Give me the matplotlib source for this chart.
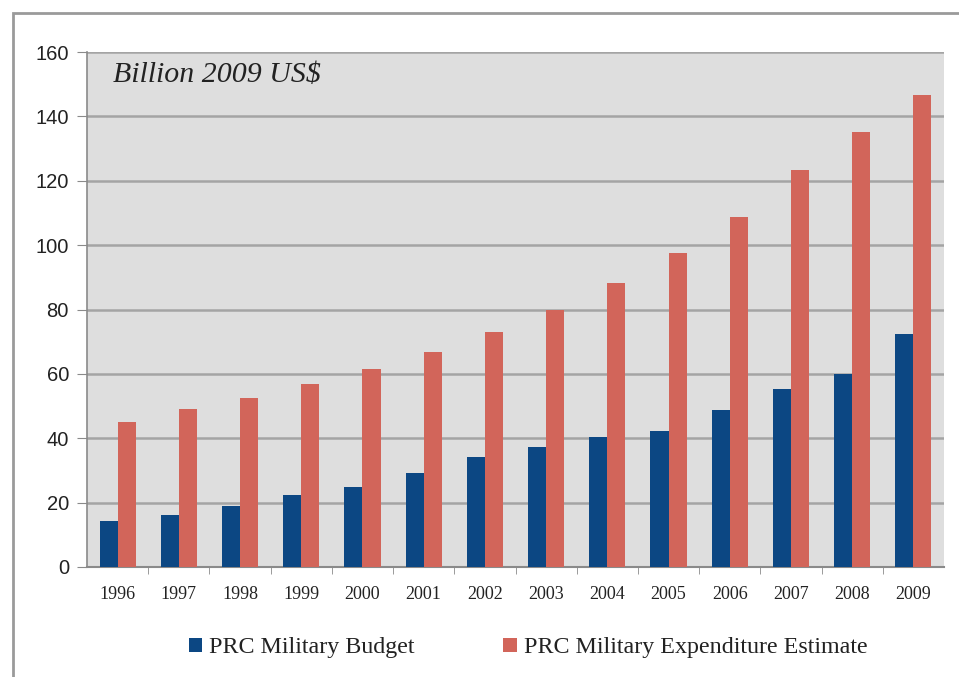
import numpy as np
import matplotlib.pyplot as plt
from matplotlib.patches import Rectangle

years = ['1996', '1997', '1998', '1999', '2000', '2001', '2002',
         '2003', '2004', '2005', '2006', '2007', '2008', '2009']
budget = [14.4, 16.1, 18.9, 22.3, 24.9, 29.1, 34.1,
          37.2, 40.4, 42.4, 48.7, 55.3, 60.1, 72.5]
estimate = [44.9, 49.0, 52.5, 56.7, 61.6, 66.7, 73.0,
            80.0, 88.3, 97.4, 108.7, 123.2, 135.0, 146.7]

blue = '#0C4783'
red = '#D2655A'
W, H = 959, 677

fig = plt.figure(figsize=(W / 100, H / 100), dpi=100)
fig.patch.set_facecolor('white')

# outer frame of the original picture (runs off right/bottom edge)
fig.add_artist(Rectangle((13 / W, -0.1), 1.2, 1.1 - 13 / H, transform=fig.transFigure,
                         fill=False, edgecolor='#9a9a9a', linewidth=2))

ax = fig.add_axes([87 / W, 1 - 567 / H, (944 - 87) / W, (567 - 52) / H])
ax.set_facecolor('#dedede')

x = np.arange(len(years))
bw = 0.295
ax.bar(x - bw / 2, budget, bw, color=blue, label='PRC Military Budget', zorder=3)
ax.bar(x + bw / 2, estimate, bw, color=red, label='PRC Military Expenditure Estimate', zorder=3)

ax.set_xlim(-0.5, len(years) - 0.5)
ax.set_ylim(0, 160)
ax.set_yticks(np.arange(0, 161, 20))
ax.yaxis.grid(True, color='#a4a4a4', linewidth=1.8, zorder=1)
ax.set_axisbelow(True)

ax.set_xticks(x)
ax.set_xticklabels(years, family='Liberation Serif', fontsize=13, color='#222222')
ax.set_xticks(np.arange(0.5, len(years) - 1, 1), minor=True)
ax.tick_params(axis='x', which='major', length=0, pad=14)
ax.tick_params(axis='x', which='minor', length=5, color='#8a8a8a', direction='out')
ax.tick_params(axis='y', length=7, color='#8a8a8a', labelsize=14.5, pad=6, labelcolor='#222222')
for lab in ax.get_yticklabels():
    lab.set_family('Liberation Sans')

for s in ['top', 'right']:
    ax.spines[s].set_visible(False)
ax.spines['left'].set_color('#8a8a8a')
ax.spines['bottom'].set_color('#8a8a8a')
ax.spines['left'].set_linewidth(1.2)
ax.spines['bottom'].set_linewidth(1.5)

ax.text(0.03, 0.955, 'Billion 2009 US$', transform=ax.transAxes, ha='left', va='center',
        family='Liberation Serif', style='italic', fontsize=21.5, color='#222222')

leg = fig.legend(loc='center', bbox_to_anchor=(528 / W, 1 - 648 / H), ncol=2, frameon=False,
                 prop={'family': 'Liberation Serif', 'size': 17.3}, handlelength=0.55,
                 handleheight=0.55, handletextpad=0.3, columnspacing=3.7)
for t in leg.get_texts():
    t.set_color('#222222')

fig.savefig('out.png', dpi=100)
